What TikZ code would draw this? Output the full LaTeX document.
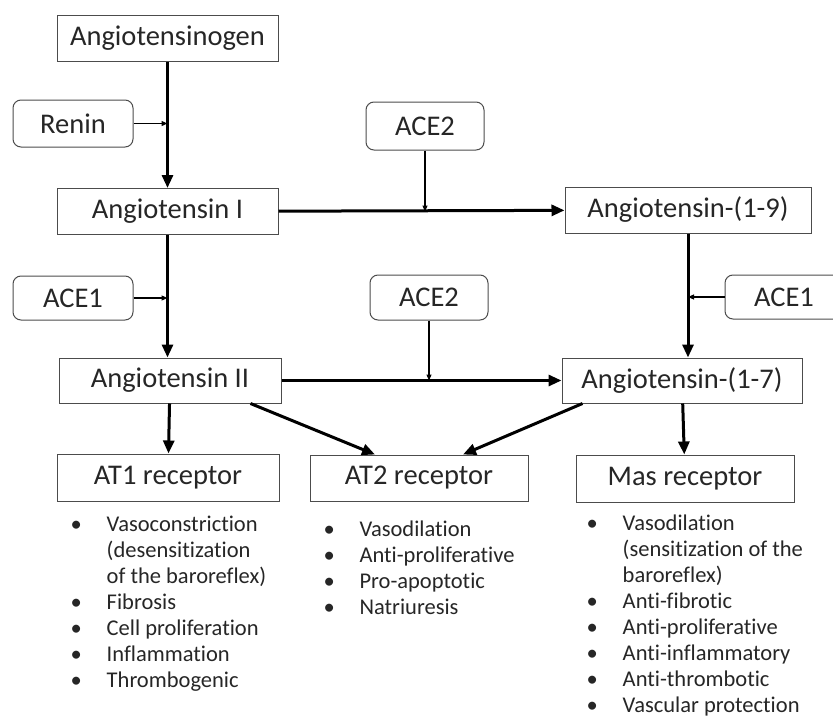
\documentclass[tikz,border=0pt]{standalone}
\usepackage{fontspec}
\setmainfont[Ligatures={NoCommon}]{Carlito}
\usetikzlibrary{arrows.meta,positioning,matrix}
\tikzset{% boxes and arrows of the cascade
	pep/.style={draw=black!70,line width=1pt,inner sep=0pt,text=black!85,
		minimum height=46pt,font=\fontsize{28.5}{32}\selectfont},
	enz/.style={pep,rounded corners=8pt},
	conv/.style={line width=3pt,-{Triangle[length=13pt,width=11pt]}},
	act/.style={line width=1.2pt,-{Triangle[length=6pt,width=5pt]}},
	fx/.style={matrix of nodes,anchor=north west,ampersand replacement=\&,
		nodes={anchor=west,inner sep=0pt,text=black!85,font=\fontsize{22.5}{26.5}\selectfont,
			text height=19.5pt,text depth=6.5pt}}
}
\begin{document}
\begin{tikzpicture}[x=1pt,y=-1pt]
\useasboundingbox (0,0) rectangle (833,720);
\clip (0,0) rectangle (833,720);

\node[pep,minimum width=221pt] (gen) at (167.5,38.5) {Angiotensinogen};
\node[enz,minimum width=120pt,minimum height=47pt] (renin) at (73,123.5) {Renin};
\node[pep,minimum width=221pt] (ang1) at (167.5,211.5) {Angiotensin I};
\node[enz,minimum width=118pt,minimum height=48pt] (ace2a) at (425,126) {ACE2};
\node[pep,minimum width=246pt] (ang19) at (688,210) {Angiotensin-(1-9)};
\node[enz,minimum width=120pt,minimum height=44pt] (ace1a) at (73,298) {ACE1};
\node[enz,minimum width=118pt,minimum height=45pt] (ace2b) at (429,297.5) {ACE2};
\node[enz,minimum width=118pt,minimum height=44pt] (ace1b) at (784,297) {ACE1};
\node[pep,minimum width=222pt,minimum height=45pt] (ang2) at (170,380.5) {Angiotensin II};
\node[pep,minimum width=240pt,minimum height=45pt] (ang17) at (682,380.5) {Angiotensin-(1-7)};
\node[pep,minimum width=222pt,minimum height=47pt] (at1) at (168,477.5) {AT1 receptor};
\node[pep,minimum width=218pt] (at2) at (419,478) {AT2 receptor};
\node[pep,minimum width=218pt,minimum height=47pt] (mas) at (685,478.5) {Mas receptor};

\draw[conv] (gen) -- (ang1);
\draw[act] (renin.east) -- (renin.east -| gen.south);
\draw[conv] (ang1) -- (ang19);
\draw[act] (ace2a.south) -- (ace2a.south |- ang1.east);
\draw[conv] (ang1.south) -- (ang1.south |- ang2.north);
\draw[act] (ace1a.east) -- (ace1a.east -| ang1.south);
\draw[conv] (ang19.south) -- (ang19.south |- ang17.north);
\draw[act] (ace1b.west) -- (ace1b.west -| ang19.south);
\draw[conv] (ang2) -- (ang17);
\draw[act] (ace2b.south) -- (ace2b.south |- ang2.east);
\draw[conv] (ang2) -- (at1);
\draw[conv] ([xshift=-31pt]ang2.south east) -- ([xshift=-44pt]at2.north);
\draw[conv] ([xshift=21pt]ang17.south west) -- ([xshift=44pt]at2.north);
\draw[conv] (ang17) -- (mas);

\matrix (at1fx) [fx] at (67,508) {
	\makebox[36pt][l]{•} \& Vasoconstriction\\
	\& (desensitization\\
	\& of the baroreflex)\\
	\makebox[36pt][l]{•} \& Fibrosis\\
	\makebox[36pt][l]{•} \& Cell proliferation\\
	\makebox[36pt][l]{•} \& Inflammation\\
	\makebox[36pt][l]{•} \& Thrombogenic\\
};
\matrix (at2fx) [fx] at (320,513) {
	\makebox[36pt][l]{•} \& Vasodilation\\
	\makebox[36pt][l]{•} \& Anti-proliferative\\
	\makebox[36pt][l]{•} \& Pro-apoptotic\\
	\makebox[36pt][l]{•} \& Natriuresis\\
};
\matrix (masfx) [fx] at (583,507) {
	\makebox[36pt][l]{•} \& Vasodilation\\
	\& (sensitization of the\\
	\& baroreflex)\\
	\makebox[36pt][l]{•} \& Anti-fibrotic\\
	\makebox[36pt][l]{•} \& Anti-proliferative\\
	\makebox[36pt][l]{•} \& Anti-inflammatory\\
	\makebox[36pt][l]{•} \& Anti-thrombotic\\
	\makebox[36pt][l]{•} \& Vascular protection\\
};
\end{tikzpicture}
\end{document}
